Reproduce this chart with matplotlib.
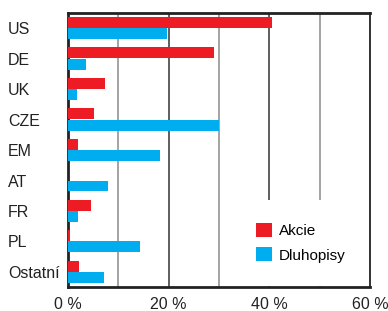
import matplotlib.pyplot as plt
import numpy as np

plt.rcParams['font.family'] = ['Liberation Sans', 'DejaVu Sans']

categories = ['US', 'DE', 'UK', 'CZE', 'EM', 'AT', 'FR', 'PL', 'Ostatní']
akcie = [40.5, 29.0, 7.4, 5.2, 2.0, 0.0, 4.6, 0.5, 2.2]
dluhopisy = [19.7, 3.6, 1.8, 30.0, 18.3, 8.0, 2.0, 14.3, 7.2]
xticks = [0, 20, 40, 60]
xtick_labels = ['0 %', '20 %', '40 %', '60 %']
grid_x = [10, 20, 30, 40, 50]

red = '#ED1C24'
blue = '#00AEEF'

fig = plt.figure(figsize=(3.88, 3.11), dpi=100)
ax = fig.add_axes([0.175, 0.077, 0.779, 0.881])

y = np.arange(len(categories))
h = 0.36
ax.barh(y - 0.19, akcie, height=h, color=red, label='Akcie', zorder=3)
ax.barh(y + 0.18, dluhopisy, height=h, color=blue, label='Dluhopisy', zorder=3)

# alternating gridline shades
for i, gx in enumerate(grid_x):
    ax.axvline(gx, color='#8a8a8a' if i % 2 == 0 else '#333333', lw=1.1, zorder=1)

ax.set_xlim(0, 60)
ax.set_ylim(len(categories) - 0.5, -0.5)
ax.set_xticks(xticks)
ax.set_xticklabels(xtick_labels, fontsize=11.5, color='#222222')
ax.set_yticks(y)
ax.set_yticklabels(categories, fontsize=11.5, color='#222222', ha='left')
ax.tick_params(axis='y', length=0, pad=43)
ax.tick_params(axis='x', length=0, pad=7)

for side in ['top', 'left', 'bottom']:
    ax.spines[side].set_linewidth(2)
    ax.spines[side].set_color('#222222')
ax.spines['right'].set_linewidth(1.3)
ax.spines['right'].set_color('#222222')

leg = ax.legend(loc='lower right', bbox_to_anchor=(1, 0), fontsize=11,
                frameon=True, facecolor='white', edgecolor='none', framealpha=1,
                fancybox=False, borderpad=1.5, handlelength=1.05, handleheight=1.05,
                handletextpad=0.45, labelspacing=0.6, borderaxespad=0.1)
leg.set_zorder(5)

plt.savefig('out.png', dpi=100)
plt.close()
